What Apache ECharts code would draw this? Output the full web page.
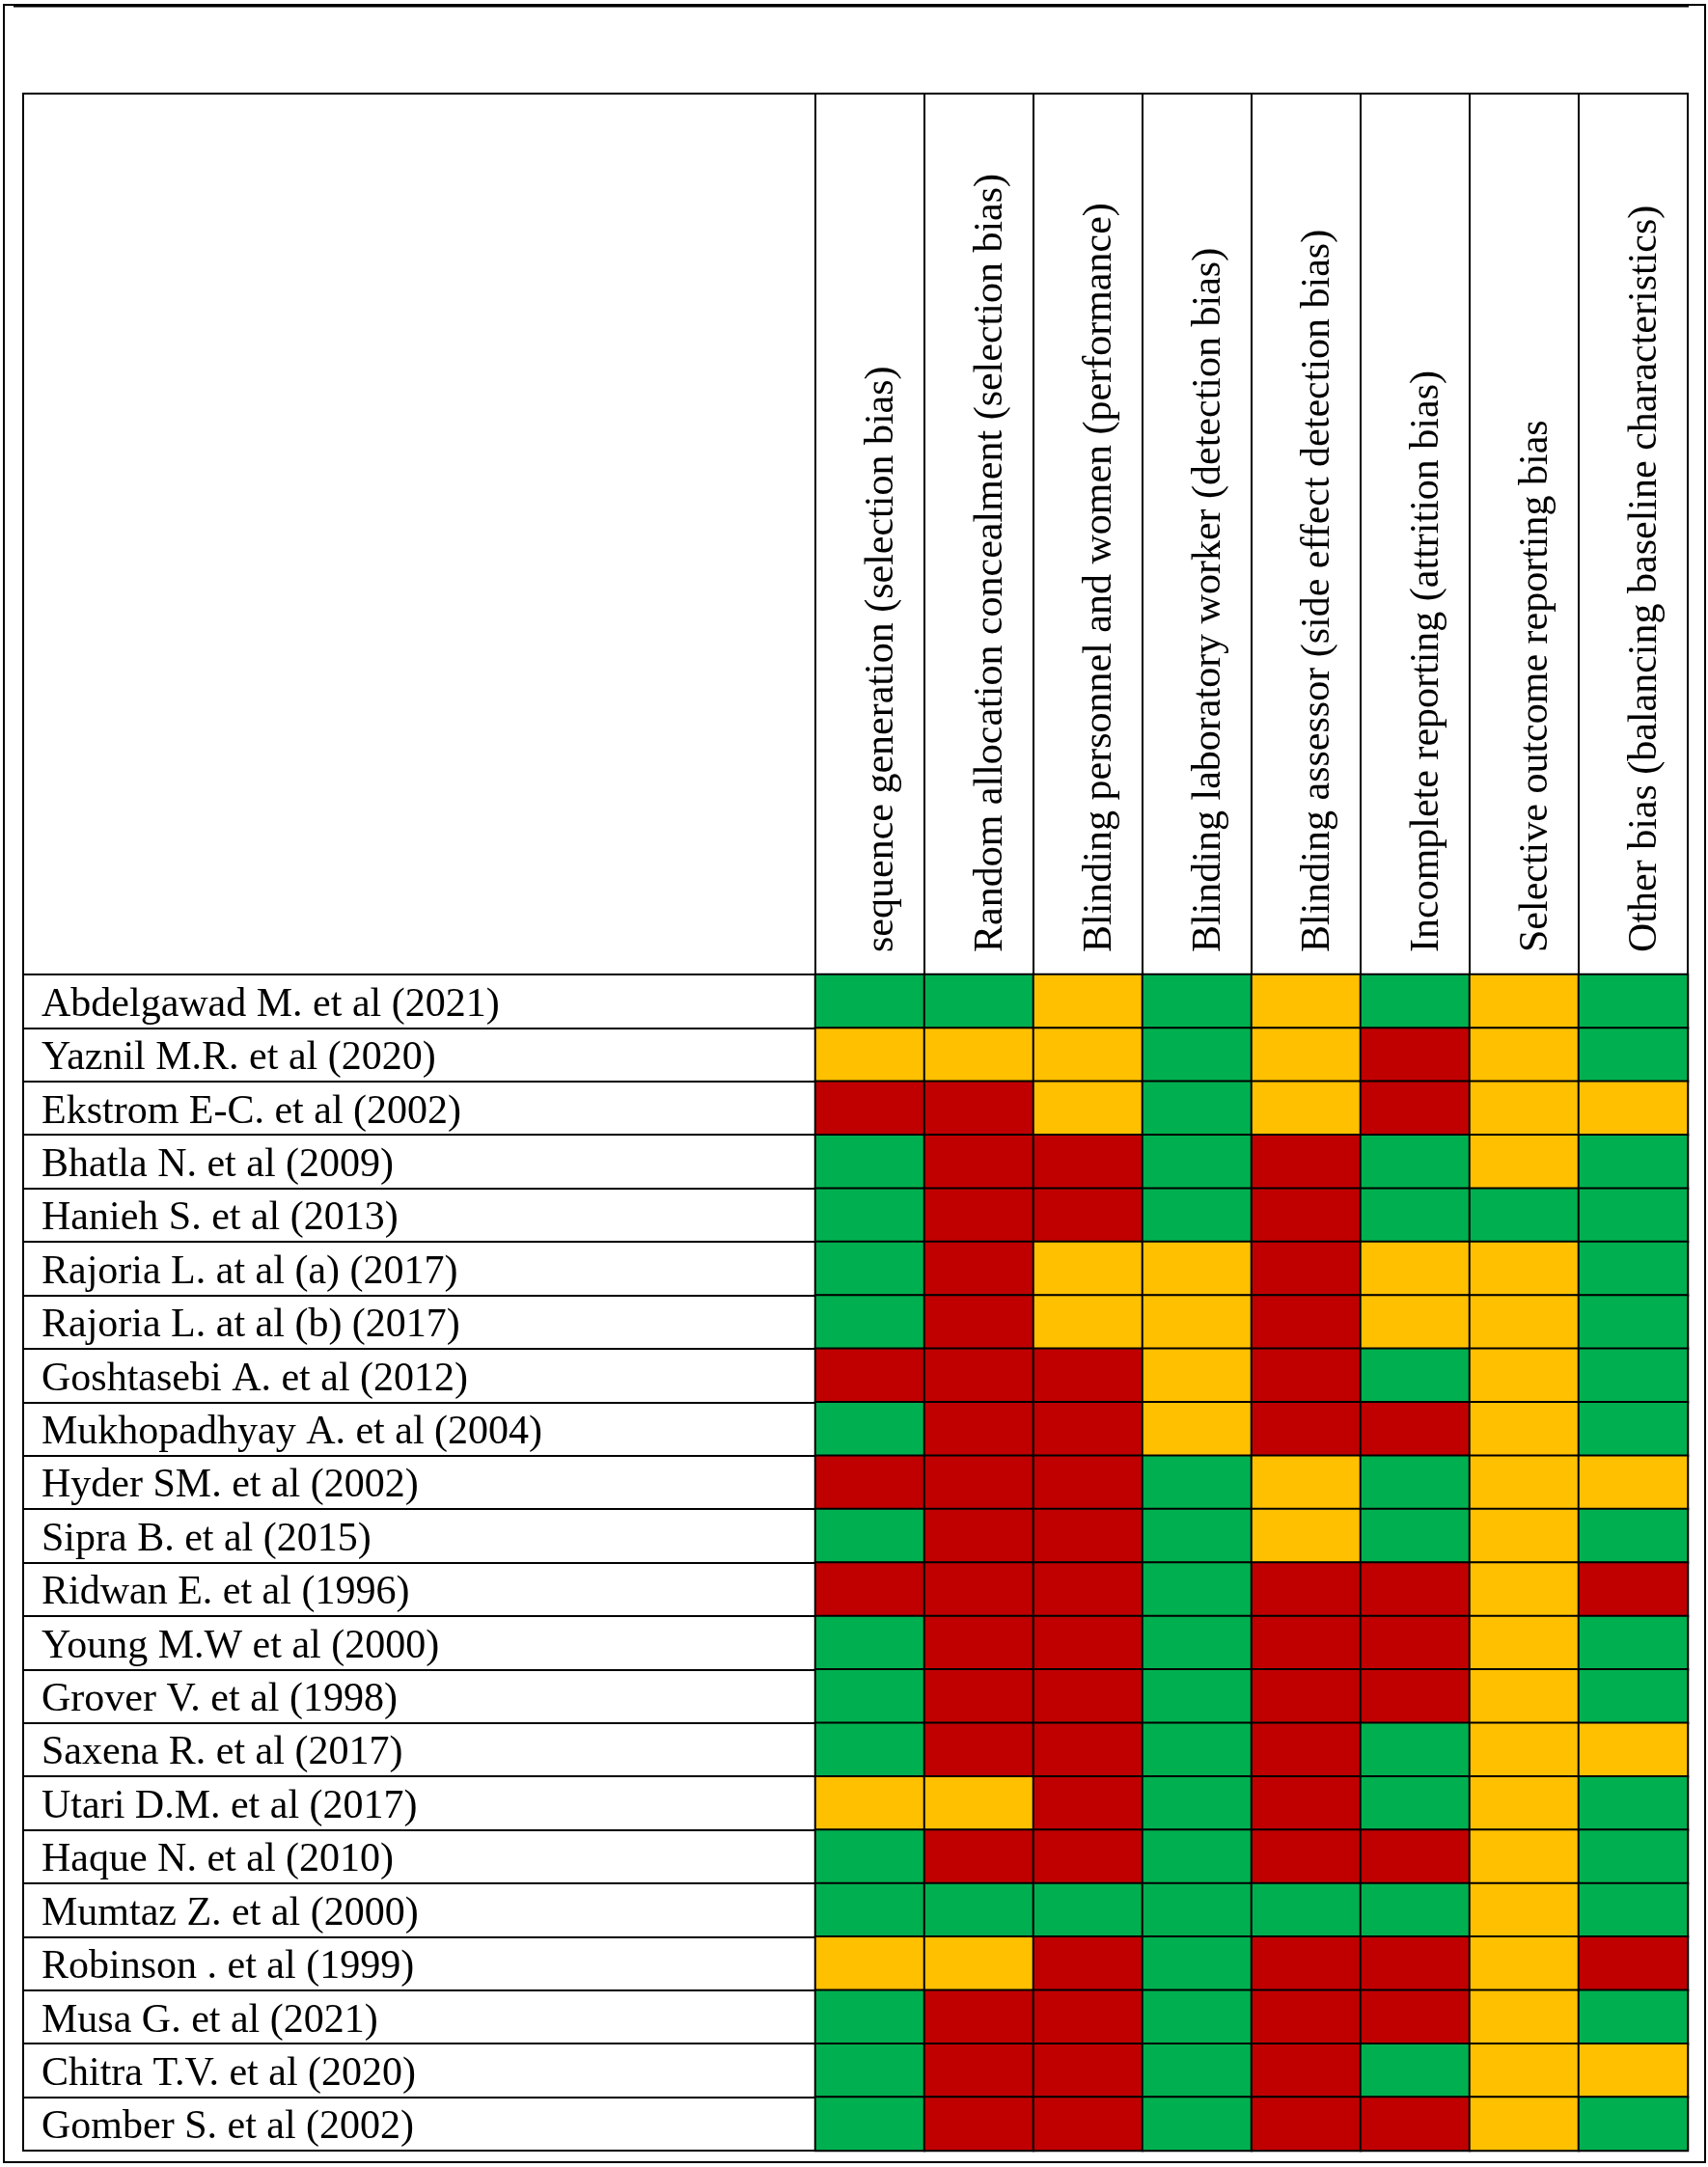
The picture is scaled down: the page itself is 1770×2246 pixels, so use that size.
<!DOCTYPE html>
<html>
<head>
<meta charset="utf-8">
<script src="https://cdn.jsdelivr.net/npm/echarts@6/dist/echarts.min.js"></script>
<style>
  html, body { margin: 0; padding: 0; background: #fff; }
  #chart { width: 1770px; height: 2246px; }
</style>
</head>
<body>
<div id="chart"></div>
<script>
// risk of bias levels: 0 = low, 1 = unclear, 2 = high
const levelColors = ['#00B050', '#FFC000', '#C00000'];

const domains = [
  'sequence generation (selection bias)',
  'Random allocation concealment (selection bias)',
  'Blinding personnel and women (performance)',
  'Blinding laboratory worker (detection bias)',
  'Blinding assessor (side effect detection bias)',
  'Incomplete reporting (attrition bias)',
  'Selective outcome reporting bias',
  'Other bias (balancing baseline characteristics)'
];

const studies = [
  'Abdelgawad M. et al (2021)',
  'Yaznil M.R. et al (2020)',
  'Ekstrom E-C. et al (2002)',
  'Bhatla N. et al (2009)',
  'Hanieh S. et al (2013)',
  'Rajoria L. at al (a) (2017)',
  'Rajoria L. at al (b) (2017)',
  'Goshtasebi A. et al (2012)',
  'Mukhopadhyay A. et al (2004)',
  'Hyder SM. et al (2002)',
  'Sipra B. et al (2015)',
  'Ridwan E. et al (1996)',
  'Young M.W et al (2000)',
  'Grover V. et al (1998)',
  'Saxena R. et al (2017)',
  'Utari D.M. et al (2017)',
  'Haque N. et al (2010)',
  'Mumtaz Z. et al (2000)',
  'Robinson . et al (1999)',
  'Musa G. et al (2021)',
  'Chitra T.V. et al (2020)',
  'Gomber S. et al (2002)'
];

// one array per domain, one value per study (same order as studies)
const sequenceGeneration = [0, 1, 2, 0, 0, 0, 0, 2, 0, 2, 0, 2, 0, 0, 0, 1, 0, 0, 1, 0, 0, 0];
const allocationConcealment = [0, 1, 2, 2, 2, 2, 2, 2, 2, 2, 2, 2, 2, 2, 2, 1, 2, 0, 1, 2, 2, 2];
const blindingPersonnel = [1, 1, 1, 2, 2, 1, 1, 2, 2, 2, 2, 2, 2, 2, 2, 2, 2, 0, 2, 2, 2, 2];
const blindingLaboratory = [0, 0, 0, 0, 0, 1, 1, 1, 1, 0, 0, 0, 0, 0, 0, 0, 0, 0, 0, 0, 0, 0];
const blindingAssessor = [1, 1, 1, 2, 2, 2, 2, 2, 2, 1, 1, 2, 2, 2, 2, 2, 2, 0, 2, 2, 2, 2];
const incompleteReporting = [0, 2, 2, 0, 0, 1, 1, 0, 2, 0, 0, 2, 2, 2, 0, 0, 2, 0, 2, 2, 0, 2];
const selectiveReporting = [1, 1, 1, 1, 0, 1, 1, 1, 1, 1, 1, 1, 1, 1, 1, 1, 1, 1, 1, 1, 1, 1];
const otherBias = [0, 0, 1, 0, 0, 0, 0, 0, 0, 1, 0, 2, 0, 0, 1, 0, 0, 0, 2, 0, 1, 0];

const domainValues = [
  sequenceGeneration, allocationConcealment, blindingPersonnel, blindingLaboratory,
  blindingAssessor, incompleteReporting, selectiveReporting, otherBias
];

let cells = [];
domainValues.forEach(function (col, x) {
  col.forEach(function (v, y) {
    cells.push([x, y, v]);
  });
});

const font = 'Liberation Serif, Times New Roman, serif';
const lineBlack = { color: '#000', width: 2 };

let chart = echarts.init(document.getElementById('chart'), null, { renderer: 'canvas' });

chart.setOption({
  animation: false,
  backgroundColor: '#fff',
  grid: [
    // study names column
    { left: 24, top: 1010, width: 821, height: 1219, show: true, borderColor: '#000', borderWidth: 2 },
    // coloured cells
    { left: 845, top: 1010, width: 904, height: 1219, show: true, borderColor: '#000', borderWidth: 2 },
    // domain header
    { left: 845, top: 97, width: 904, height: 913, show: true, borderColor: '#000', borderWidth: 2 },
    // empty header corner
    { left: 24, top: 97, width: 821, height: 913, show: true, borderColor: '#000', borderWidth: 2 }
  ],
  xAxis: [
    { gridIndex: 0, type: 'value', show: false },
    { gridIndex: 1, type: 'category', data: domains, show: false },
    {
      gridIndex: 2, type: 'category', data: domains, position: 'bottom',
      axisLine: { show: true, lineStyle: lineBlack },
      axisTick: { show: false },
      splitLine: { show: true, lineStyle: lineBlack },
      axisLabel: {
        inside: true, rotate: 90, margin: 23, interval: 0,
        fontFamily: font, fontSize: 42, color: '#000',
        verticalAlign: 'top', lineHeight: 25
      }
    },
    { gridIndex: 3, type: 'value', show: false }
  ],
  yAxis: [
    {
      gridIndex: 0, type: 'category', data: studies, inverse: true,
      axisLine: { show: true, lineStyle: lineBlack },
      axisTick: { show: false },
      splitLine: { show: true, lineStyle: lineBlack },
      axisLabel: {
        inside: true, margin: 19, interval: 0,
        fontFamily: font, fontSize: 42, color: '#000',
        verticalAlign: 'top', lineHeight: 8
      }
    },
    { gridIndex: 1, type: 'category', data: studies, inverse: true, show: false },
    { gridIndex: 2, type: 'value', show: false },
    { gridIndex: 3, type: 'value', show: false }
  ],
  visualMap: {
    type: 'piecewise',
    show: false,
    seriesIndex: 0,
    dimension: 2,
    pieces: [
      { value: 0, color: levelColors[0] },
      { value: 1, color: levelColors[1] },
      { value: 2, color: levelColors[2] }
    ]
  },
  series: [{
    type: 'heatmap',
    xAxisIndex: 1,
    yAxisIndex: 1,
    data: cells,
    itemStyle: { borderColor: '#000', borderWidth: 2 },
    emphasis: { disabled: true }
  }],
  graphic: [
    {
      type: 'rect',
      shape: { x: 4, y: 5, width: 1763, height: 2236 },
      style: { fill: 'none', stroke: '#000', lineWidth: 2 },
      silent: true
    },
    {
      type: 'line',
      shape: { x1: 14, y1: 6, x2: 1750, y2: 6 },
      style: { stroke: '#000', lineWidth: 3 },
      silent: true
    }
  ]
});
</script>
</body>
</html>
